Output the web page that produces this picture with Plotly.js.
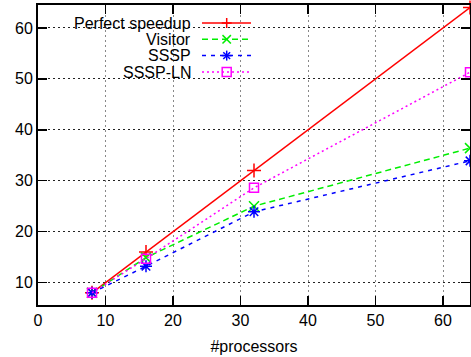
<!DOCTYPE html>
<html>
<head>
<meta charset="utf-8">
<script src="https://cdn.plot.ly/plotly-3.0.1.min.js"></script>
<style>html,body{margin:0;padding:0;background:#fff;}#chart{width:471px;height:357px;}</style>
</head>
<body>
<div id="chart"></div>
<script>
const processors = [8, 16, 32, 64];
const perfectSpeedup = [8, 16, 32, 64];
const visitor = [8, 14.9, 25.0, 36.4];
const sssp = [8, 13.2, 23.9, 33.9];
const ssspLN = [8, 14.7, 28.6, 51.3];
const seriesNames = ["Perfect speedup", "Visitor", "SSSP", "SSSP-LN"];
const xTicks = [0, 10, 20, 30, 40, 50, 60];
const yTicks = [10, 20, 30, 40, 50, 60];

const W = 471, H = 357;
const M = {l: 38, r: 1, t: 5, b: 52};
const PW = W - M.l - M.r, PH = H - M.t - M.b;
const px = x => (x - M.l) / PW;
const py = y => 1 - (y - M.t) / PH;

const colors = ["#ff0000", "#00ee00", "#0000ff", "#ff00ff"];
const dashes = ["solid", "6px,4px", "4px,5px", "2px,3px"];
const symbols = ["cross-thin-open", "x-thin-open", "asterisk-open", "square-open"];
const sizes = [10, 10, 10, 9];
const ys = [perfectSpeedup, visitor, sssp, ssspLN];

const traces = ys.map((y, i) => ({
  x: processors, y: y, name: seriesNames[i], type: "scatter", mode: "lines+markers",
  line: {color: colors[i], width: 1.5, dash: dashes[i]},
  marker: {symbol: symbols[i], size: sizes[i], color: colors[i], line: {color: colors[i], width: 1.5}},
  showlegend: false, cliponaxis: false
}));

// manual gnuplot-style legend
const shapes = [{type: "rect", xref: "paper", yref: "paper", x0: px(39), x1: px(259), y0: py(80), y1: py(6),
  fillcolor: "#ffffff", line: {width: 0}, layer: "between"}];
const annotations = [];
const rowY = [23, 39.3, 55.6, 72];
const lx0 = 202, lx1 = 251, mx = 226.7;
seriesNames.forEach((n, i) => {
  const y = rowY[i];
  annotations.push({xref: "paper", yref: "paper", x: px(193), y: py(y), xanchor: "right", yanchor: "middle",
    text: n, showarrow: false,
    font: {family: "Liberation Sans, Arial, sans-serif", size: 16, color: "#000"}});
  shapes.push({type: "line", xref: "paper", yref: "paper", x0: px(lx0), x1: px(lx1), y0: py(y), y1: py(y),
    line: {color: colors[i], width: 1.5, dash: dashes[i]}});
  const s = 5, s2 = 4.2;
  const ln = (x0, y0, x1, y1) => shapes.push({type: "line", xref: "paper", yref: "paper",
    x0: px(x0), x1: px(x1), y0: py(y0), y1: py(y1), line: {color: colors[i], width: 1.5}});
  if (i === 0) { ln(mx - s, y, mx + s, y); ln(mx, y - s, mx, y + s); }
  if (i === 1) { ln(mx - s2, y - s2, mx + s2, y + s2); ln(mx - s2, y + s2, mx + s2, y - s2); }
  if (i === 2) { ln(mx - s, y, mx + s, y); ln(mx, y - s, mx, y + s); ln(mx - s2 + 0.8, y - s2 + 0.8, mx + s2 - 0.8, y + s2 - 0.8); ln(mx - s2 + 0.8, y + s2 - 0.8, mx + s2 - 0.8, y - s2 + 0.8); }
  if (i === 3) { shapes.push({type: "rect", xref: "paper", yref: "paper", x0: px(mx - 4.5), x1: px(mx + 4.5),
    y0: py(y + 4.5), y1: py(y - 4.5), line: {color: colors[i], width: 1.5}}); }
});

const axisCommon = {
  showline: true, linecolor: "#000", linewidth: 2, mirror: "ticks",
  ticks: "inside", ticklen: 9, tickwidth: 1.5, tickcolor: "#000",
  showgrid: true, griddash: "2px,3px", gridwidth: 1, zeroline: false,
  tickfont: {family: "Liberation Sans, Arial, sans-serif", size: 16, color: "#000"}
};

const layout = {
  width: W, height: H, margin: M, paper_bgcolor: "#fff", plot_bgcolor: "#fff",
  showlegend: false,
  xaxis: Object.assign({}, axisCommon, {range: [0, 64], tickvals: xTicks, gridcolor: "#888",
    title: {text: "#processors", font: {family: "Liberation Sans, Arial, sans-serif", size: 16, color: "#000"}, standoff: 13}}),
  yaxis: Object.assign({}, axisCommon, {range: [5.6, 64.5], tickvals: yTicks, gridcolor: "#222"}),
  shapes: shapes, annotations: annotations
};

Plotly.newPlot("chart", traces, layout, {displayModeBar: false, staticPlot: true});
</script>
</body>
</html>
